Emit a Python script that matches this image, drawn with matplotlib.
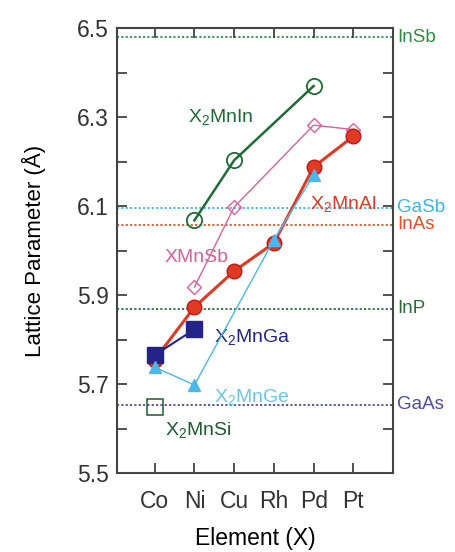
import numpy as np
import matplotlib
matplotlib.use("Agg")
import matplotlib.pyplot as plt
from matplotlib.ticker import MultipleLocator

plt.rcParams['font.family'] = ['Liberation Sans', 'DejaVu Sans']
plt.rcParams['mathtext.fontset'] = 'custom'
plt.rcParams['mathtext.rm'] = 'Liberation Sans'
plt.rcParams['mathtext.it'] = 'Liberation Sans'

# element positions on the x axis
elements = ['Co', 'Ni', 'Cu', 'Rh', 'Pd', 'Pt']

# series: x positions (1-based) and lattice parameters
mnin_x = [2, 3, 5]
mnin_y = [6.068, 6.203, 6.370]
mnsb_x = [2, 3, 5, 6]
mnsb_y = [5.918, 6.098, 6.282, 6.272]
mnal_x = [1, 2, 3, 4, 5, 6]
mnal_y = [5.755, 5.873, 5.954, 6.017, 6.188, 6.257]
mnga_x = [1, 2]
mnga_y = [5.765, 5.823]
mnge_x = [1, 2, 4, 5]
mnge_y = [5.738, 5.698, 6.024, 6.170]
mnsi_x = [1]
mnsi_y = [5.648]

# substrate lattice constants
subs_names = ['InSb', 'GaSb', 'InAs', 'InP', 'GaAs']
subs_vals = [6.479, 6.096, 6.058, 5.869, 5.653]
subs_colors = ['#2f8f45', '#3fb5e5', '#e0502c', '#2b6b3c', '#4b4ba5']

fig = plt.figure(figsize=(4.55, 5.52), dpi=100)
ax = fig.add_axes([0.257, 0.143, 0.607, 0.806])

for name, val, col in zip(subs_names, subs_vals, subs_colors):
    ax.axhline(val, color=col, ls=(0, (1.2, 1.2)), lw=1.3, zorder=1)
    ax.text(7.1, val, name, color=col, fontsize=13.5, va='center', ha='left',
            clip_on=False)

ax.plot(mnin_x, mnin_y, '-o', color='#1f6b35', lw=1.8, ms=11, mfc='none', mew=1.3, zorder=3)
ax.plot(mnsb_x, mnsb_y, '-D', color='#d9609a', lw=1.0, ms=7.5, mfc='none', mew=1.0, zorder=3)
ax.plot(mnal_x, mnal_y, '-o', color='#e03a22', lw=2.2, ms=10.5, mec='#c01818', zorder=4)
ax.plot(mnga_x, mnga_y, '-s', color='#23238a', lw=1.5, ms=11, zorder=5)
ax.plot(mnge_x, mnge_y, '-^', color='#49b8ec', lw=1.0, ms=9, zorder=5)
ax.plot(mnsi_x, mnsi_y, 's', color='#1f5a30', ms=11, mfc='none', mew=1.1, zorder=5)

lab_fs = 14
ax.text(1.85, 6.30, 'X$_2$MnIn', color='#1f6b35', fontsize=lab_fs, va='center')
ax.text(4.92, 6.105, 'X$_2$MnAl', color='#e03a22', fontsize=lab_fs, va='center')
ax.text(1.25, 5.985, 'XMnSb', color='#d9609a', fontsize=lab_fs, va='center')
ax.text(2.5, 5.805, 'X$_2$MnGa', color='#23238a', fontsize=lab_fs, va='center')
ax.text(2.5, 5.672, 'X$_2$MnGe', color='#6cc4ee', fontsize=lab_fs, va='center')
ax.text(1.25, 5.597, 'X$_2$MnSi', color='#1f5a30', fontsize=lab_fs, va='center')

ax.set_xlim(0.05, 7.0)
ax.set_ylim(5.5, 6.5)
ax.set_xticks(range(1, 7))
ax.set_xticklabels(elements)
ax.set_yticks([5.5, 5.7, 5.9, 6.1, 6.3, 6.5])
ax.yaxis.set_minor_locator(MultipleLocator(0.1))
ax.tick_params(which='both', direction='in', top=True, right=True, labelsize=16.5,
               width=1.2, length=7, colors='#333333')
ax.tick_params(axis='x', pad=12)
ax.tick_params(axis='y', pad=6)
for s in ax.spines.values():
    s.set_linewidth(1.5)
    s.set_color('#444444')

ax.set_xlabel('Element (X)', fontsize=16.5, labelpad=10)
ax.set_ylabel('Lattice Parameter (Å)', fontsize=16, labelpad=22)

fig.savefig('out.png', dpi=100)
